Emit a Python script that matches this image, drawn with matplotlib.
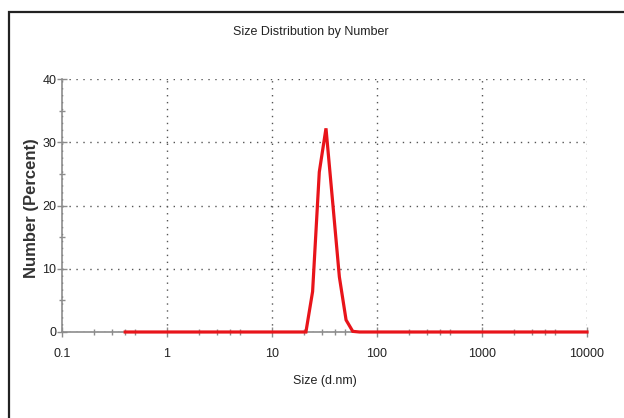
import numpy as np
import matplotlib
matplotlib.use("Agg")
import matplotlib.pyplot as plt
import matplotlib.ticker as ticker
from matplotlib.patches import Rectangle

plt.rcParams['font.family'] = ['Liberation Sans', 'DejaVu Sans']

# size (d.nm) and number (%)
size_nm = [0.4, 21.04, 24.36, 28.21, 32.67, 37.84, 43.82, 50.75, 58.77, 68.06, 10000]
number_pct = [0.0, 0.0, 6.4, 25.3, 32.2, 20.5, 8.7, 1.9, 0.1, 0.0, 0.0]

x_ticks = [0.1, 1, 10, 100, 1000, 10000]
x_ticklabels = ['0.1', '1', '10', '100', '1000', '10000']
y_ticks = [0, 10, 20, 30, 40]

fig = plt.figure(figsize=(6.24, 4.18), dpi=100)
ax = fig.add_axes([62/624, 1 - 332/418, (587 - 62)/624, (332 - 79)/418])

# outer frame of the report panel
fig.patches.append(Rectangle((9/624, -0.1), 1.2, 1 - 12/418 + 0.1,
                             transform=fig.transFigure, fill=False,
                             edgecolor='#222222', linewidth=1.6))

ax.plot(size_nm, number_pct, color='#e8141a', linewidth=2.3,
        solid_joinstyle='miter', clip_on=False, zorder=3)

ax.set_xscale('log')
ax.set_xlim(0.1, 10000)
ax.set_ylim(0, 40)
ax.set_xticks(x_ticks)
ax.set_xticklabels(x_ticklabels)
ax.xaxis.set_minor_locator(ticker.LogLocator(base=10, subs=(2, 3, 4, 5)))
ax.xaxis.set_minor_formatter(ticker.NullFormatter())
ax.set_yticks(y_ticks)
ax.yaxis.set_minor_locator(ticker.MultipleLocator(5))

for s in ['top', 'right']:
    ax.spines[s].set_visible(False)
for s in ['left', 'bottom']:
    ax.spines[s].set_color('#8c8c8c')
    ax.spines[s].set_linewidth(1.2)

ax.tick_params(which='major', direction='inout', length=7, width=1,
               color='#8c8c8c', labelsize=9, labelcolor='#222222')
ax.tick_params(axis='x', which='major', pad=8)
ax.tick_params(axis='y', which='major', pad=0.5)
ax.tick_params(which='minor', direction='inout', length=5, width=1,
               color='#8c8c8c')

ax.grid(True, which='major', linestyle=(0, (1, 4)), color='#555555',
        linewidth=1)
ax.set_axisbelow(True)

fig.text(311/624, 1 - 32/418, 'Size Distribution by Number', fontsize=9,
         color='#222222', ha='center', va='center')
fig.text(325/624, 1 - 381/418, 'Size (d.nm)', fontsize=9,
         color='#222222', ha='center', va='center')
ax.set_ylabel('Number (Percent)', fontsize=12, color='#333333',
              fontweight='bold')
ax.yaxis.set_label_coords((39 - 62)/525, 0.49)

fig.savefig('out.png', dpi=100)
